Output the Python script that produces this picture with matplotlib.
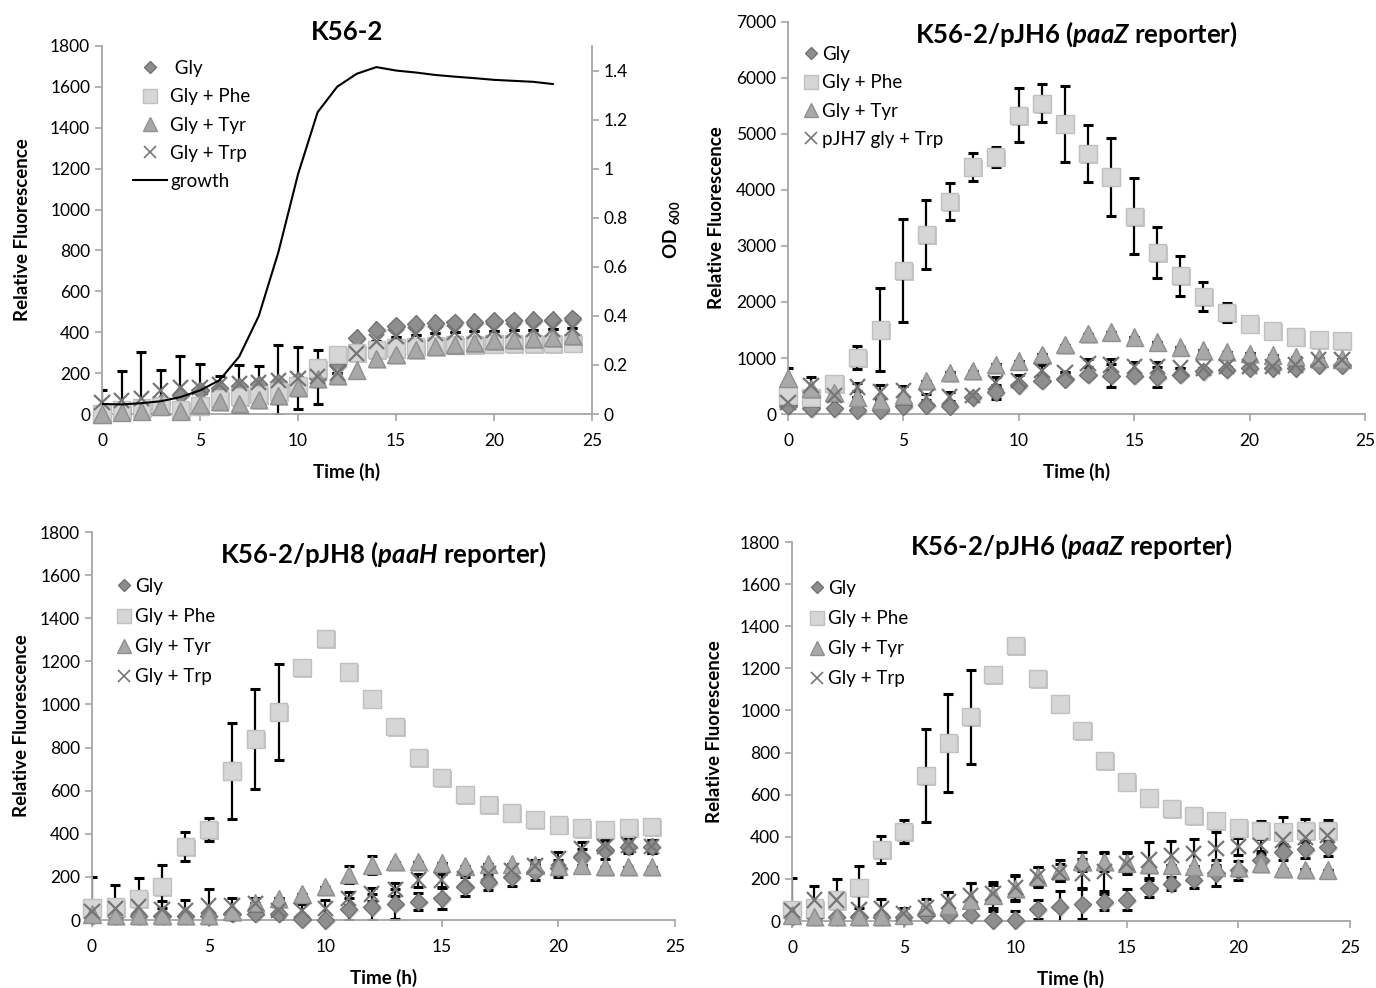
import numpy as np
import matplotlib
matplotlib.use("Agg")
import matplotlib.pyplot as plt
import matplotlib.patheffects as pe
from matplotlib.lines import Line2D

plt.rcParams['font.family'] = ['Lato', 'DejaVu Sans']
plt.rcParams['mathtext.fontset'] = 'custom'
plt.rcParams['mathtext.rm'] = 'Lato'
plt.rcParams['mathtext.it'] = 'Lato:italic'
plt.rcParams['mathtext.bf'] = 'Lato:bold'
plt.rcParams['mathtext.bfit'] = 'Lato:bold:italic'

# ---------------- data ----------------
hours = list(range(25))
growth_hours = list(range(24))

# Panel A: K56-2
gly_a = [0, 25, 35, 55, 95, 115, 125, 135, 145, 155, 165, 175, 240, 372, 413, 430, 440, 445, 448, 450, 455, 458, 460, 462, 468]
phe_a = [0, 20, 30, 40, 20, 40, 75, 85, 95, 110, 140, 225, 290, 300, 315, 322, 330, 335, 338, 340, 342, 344, 345, 346, 348]
tyr_a = [0, 10, 15, 40, 15, 45, 60, 50, 70, 90, 130, 175, 190, 215, 270, 290, 315, 330, 340, 350, 358, 365, 370, 375, 385]
trp_a = [55, 65, 75, 115, 130, 130, 145, 148, 155, 165, 175, 182, 200, 297, 355, 378, 388, 395, 400, 405, 408, 410, 413, 416, 420]
trp_a_err = [61, 145, 227, 100, 156, 113, 42, 92, 81, 171, 151, 132, 0, 0, 0, 0, 0, 0, 0, 0, 0, 0, 0, 0, 0]
growth_a = [0.041, 0.039, 0.044, 0.052, 0.069, 0.096, 0.138, 0.234, 0.40, 0.66, 0.977, 1.23,
            1.334, 1.387, 1.414, 1.40, 1.392, 1.382, 1.375, 1.369, 1.362, 1.358, 1.354, 1.345]

# Panel B: K56-2/pJH6 (paaZ reporter), top
gly_b = [150, 100, 100, 70, 70, 140, 158, 140, 300, 392, 509, 596, 626, 702, 684, 684, 661, 702, 760, 789, 819, 819, 819, 877, 877]
gly_b_err = [0, 0, 0, 0, 0, 0, 0, 0, 60, 130, 0, 0, 0, 0, 200, 0, 180, 0, 0, 0, 0, 0, 0, 0, 0]
phe_b = [333, 300, 550, 1006, 1503, 2559, 3206, 3794, 4412, 4588, 5335, 5547, 5176, 4647, 4235, 3529, 2882, 2470, 2100, 1813, 1608, 1480, 1374, 1327, 1316]
phe_b_err = [0, 0, 0, 200, 740, 925, 620, 330, 250, 180, 480, 340, 680, 510, 700, 680, 450, 360, 260, 170, 0, 0, 0, 0, 0]
tyr_b = [643, 450, 380, 304, 250, 333, 596, 743, 772, 889, 947, 1064, 1240, 1433, 1462, 1374, 1287, 1199, 1140, 1111, 1082, 1053, 1023, 1000, 980]
tyr_b_err = [170, 0, 0, 0, 0, 0, 0, 0, 0, 0, 0, 0, 0, 0, 0, 0, 0, 0, 0, 0, 0, 0, 0, 0, 0]
trp_b = [200, 509, 333, 480, 392, 421, 304, 304, 333, 567, 596, 772, 743, 906, 877, 848, 848, 819, 819, 848, 848, 848, 877, 965, 965]
trp_b_err = [0, 146, 0, 70, 130, 80, 60, 80, 0, 90, 100, 100, 0, 70, 100, 80, 80, 0, 0, 0, 0, 0, 0, 0, 0]

# Panel C: K56-2/pJH8 (paaH reporter)
gly_c = [20, 20, 20, 20, 20, 20, 30, 30, 30, 5, 0, 50, 60, 75, 85, 100, 155, 175, 200, 225, 240, 290, 325, 340, 340]
gly_c_err = [0, 0, 0, 0, 0, 0, 0, 0, 0, 0, 0, 50, 60, 70, 40, 50, 45, 35, 40, 40, 40, 40, 40, 30, 30]
phe_c = [56, 61, 99, 155, 340, 420, 691, 840, 965, 1170, 1307, 1150, 1026, 897, 755, 661, 582, 537, 497, 467, 441, 426, 421, 430, 433]
phe_c_err = [0, 0, 98, 100, 66, 55, 222, 232, 224, 0, 0, 0, 0, 0, 0, 0, 0, 0, 0, 0, 0, 0, 0, 0, 0]
tyr_c = [28, 20, 20, 20, 20, 20, 40, 80, 100, 120, 155, 210, 255, 270, 270, 265, 250, 260, 260, 255, 250, 255, 247, 247, 247]
tyr_c_err = [0, 0, 0, 0, 0, 0, 0, 0, 0, 0, 0, 40, 40, 0, 0, 0, 0, 0, 0, 0, 0, 0, 0, 0, 0]
trp_c = [40, 55, 60, 50, 45, 65, 65, 75, 45, 45, 55, 100, 120, 140, 185, 185, 190, 215, 230, 250, 285, 330, 340, 348, 340]
trp_c_err = [160, 107, 60, 40, 50, 80, 35, 25, 40, 30, 40, 30, 30, 30, 30, 30, 30, 30, 30, 30, 30, 30, 30, 30, 30]

# Panel D: K56-2/pJH6 (paaZ reporter), bottom
gly_d = [20, 20, 20, 20, 20, 20, 30, 30, 30, 5, 5, 55, 68, 80, 90, 100, 155, 178, 196, 228, 240, 288, 328, 340, 350]
gly_d_err = [0, 0, 0, 0, 0, 0, 0, 0, 0, 44, 44, 45, 76, 70, 40, 50, 40, 30, 40, 60, 45, 45, 40, 40, 40]
phe_d = [56, 61, 99, 160, 340, 425, 692, 845, 970, 1172, 1308, 1152, 1030, 905, 762, 660, 585, 535, 500, 477, 442, 431, 423, 431, 431]
phe_d_err = [0, 0, 0, 100, 66, 55, 222, 232, 224, 0, 0, 0, 0, 0, 0, 0, 0, 0, 0, 0, 30, 42, 70, 55, 50]
tyr_d = [28, 20, 20, 20, 20, 28, 68, 76, 100, 123, 155, 210, 240, 283, 283, 276, 268, 266, 262, 256, 254, 272, 248, 246, 242]
tyr_d_err = [0, 0, 0, 0, 0, 0, 0, 60, 80, 60, 60, 45, 50, 45, 45, 50, 0, 0, 0, 0, 0, 0, 0, 0, 0]
trp_d = [50, 100, 100, 55, 60, 35, 65, 92, 120, 130, 160, 210, 230, 226, 234, 274, 290, 310, 320, 345, 355, 360, 385, 395, 405]
trp_d_err = [155, 66, 100, 100, 44, 25, 40, 47, 59, 40, 58, 48, 40, 70, 90, 50, 87, 70, 70, 80, 40, 40, 40, 40, 40]

labels_std = ['Gly', 'Gly + Phe', 'Gly + Tyr', 'Gly + Trp']
labels_b = ['Gly', 'Gly + Phe', 'Gly + Tyr', 'pJH7 gly + Trp']
labels_a = [' Gly', 'Gly + Phe', 'Gly + Tyr', 'Gly + Trp']

# ---------------- styles ----------------
shadow = [pe.SimplePatchShadow(offset=(1.2, -1.2), shadow_rgbFace='#000000', alpha=0.22), pe.Normal()]
STY = {
    'gly': dict(marker='D', ms=8.8, mfc='#8e8e8e', mec='#727272', mew=1.0),
    'phe': dict(marker='s', ms=12.5, mfc='#d6d6d6', mec='#c0c0c0', mew=1.0),
    'tyr': dict(marker='^', ms=12.5, mfc='#a8a8a8', mec='#909090', mew=1.0),
    'trp': dict(marker='x', ms=11, mfc='none', mec='#757575', mew=1.6),
}
AXCOL = '#a6a6a6'
TICK_FS = 12.5
LAB_FS = 13.5
TITLE_FS = 18.5
LEG_FS = 13.5

fig = plt.figure(figsize=(13.76, 9.88), dpi=100)

def fx(px):
    return px / 1376.0

def fy(py):
    return 1 - py / 988.0

def make_axes(x0, x25, ytop, y0):
    return fig.add_axes([fx(x0), fy(y0), fx(x25 - x0), (y0 - ytop) / 988.0])

def style_axes(ax, ymax, ystep, ylabpad=12):
    ax.set_xlim(0, 25)
    ax.set_ylim(0, ymax)
    ax.set_xticks(range(0, 26, 5))
    ax.set_yticks(np.arange(0, ymax + 1, ystep))
    for s in ['top', 'right']:
        ax.spines[s].set_visible(False)
    for s in ['left', 'bottom']:
        ax.spines[s].set_color(AXCOL)
        ax.spines[s].set_linewidth(1.3)
    ax.tick_params(axis='both', colors=AXCOL, length=5, width=1.2, labelsize=TICK_FS,
                   labelcolor='black', direction='out')
    ax.tick_params(axis='x', pad=9)
    ax.set_xlabel('Time (h)', fontsize=LAB_FS, fontweight='bold', labelpad=10)
    ax.set_ylabel('Relative Fluorescence', fontsize=LAB_FS, fontweight='bold', labelpad=ylabpad)

def draw_series(ax, values, key, err=None):
    if err is not None:
        ax.errorbar(hours, values, yerr=err, fmt='none', ecolor='black', elinewidth=1.6,
                    capsize=3.5, capthick=2.2, zorder=2)
    ln, = ax.plot(hours, values, linestyle='none', clip_on=False, zorder=3, **STY[key])
    ln.set_path_effects(shadow)
    return ln

def legend_handles(labels):
    hs = []
    for key, lab in zip(['gly', 'phe', 'tyr', 'trp'], labels):
        st = dict(STY[key])
        st['ms'] = st['ms'] * 0.75
        if key == 'trp':
            st['mew'] = 1.2
        hs.append(Line2D([], [], linestyle='none', label=lab, **st))
    return hs

# ---------- Panel A ----------
axA = make_axes(102, 592, 46, 414)
style_axes(axA, 1800, 200, ylabpad=14)
draw_series(axA, gly_a, 'gly')
draw_series(axA, phe_a, 'phe')
draw_series(axA, tyr_a, 'tyr')
draw_series(axA, trp_a, 'trp', trp_a_err)
axA.set_title('K56-2', fontsize=TITLE_FS, fontweight='bold', pad=4)
axR = axA.twinx()
axR.set_ylim(0, 1.5)
axR.set_yticks([0, 0.2, 0.4, 0.6, 0.8, 1.0, 1.2, 1.4])
axR.set_yticklabels(['0', '0.2', '0.4', '0.6', '0.8', '1', '1.2', '1.4'])
for s in ['top', 'left', 'bottom']:
    axR.spines[s].set_visible(False)
axR.spines['right'].set_color(AXCOL)
axR.spines['right'].set_linewidth(1.3)
axR.tick_params(axis='y', colors=AXCOL, length=5, width=1.2, labelsize=TICK_FS, labelcolor='black')
axR.plot(growth_hours, growth_a, color='black', lw=1.5, label='growth')
axR.set_ylabel(r'OD $_{\mathbf{600}}$', fontsize=LAB_FS, fontweight='bold', labelpad=24)
hA = legend_handles(labels_a) + [Line2D([], [], color='black', lw=1.5, label='growth')]
axR.legend(handles=hA, loc='upper left', bbox_to_anchor=(fx(133), fy(60)),
           bbox_transform=fig.transFigure, frameon=False, fontsize=LEG_FS,
           handlelength=1.8, handletextpad=0.2, labelspacing=0.6, borderpad=0, borderaxespad=0)

# ---------- Panel B ----------
axB = make_axes(788, 1365, 22, 414)
style_axes(axB, 7000, 1000, ylabpad=8)
draw_series(axB, gly_b, 'gly', gly_b_err)
draw_series(axB, phe_b, 'phe', phe_b_err)
draw_series(axB, tyr_b, 'tyr', tyr_b_err)
draw_series(axB, trp_b, 'trp', trp_b_err)
axB.set_title(r'K56-2/pJH6 ($\mathbfit{paaZ}$ reporter)', fontsize=TITLE_FS, fontweight='bold', y=0.925)
axB.legend(handles=legend_handles(labels_b), loc='upper left', bbox_to_anchor=(fx(804), fy(46)),
           bbox_transform=fig.transFigure, frameon=False, fontsize=LEG_FS,
           handlelength=0.7, handletextpad=0.25, labelspacing=0.6, borderpad=0, borderaxespad=0)

# ---------- Panel C ----------
axC = make_axes(92, 675, 532, 920)
style_axes(axC, 1800, 200, ylabpad=7)
draw_series(axC, gly_c, 'gly', gly_c_err)
draw_series(axC, phe_c, 'phe', phe_c_err)
draw_series(axC, tyr_c, 'tyr', tyr_c_err)
draw_series(axC, trp_c, 'trp', trp_c_err)
axC.set_title(r'K56-2/pJH8 ($\mathbfit{paaH}$ reporter)', fontsize=TITLE_FS, fontweight='bold', y=0.9)
axC.legend(handles=legend_handles(labels_std), loc='upper left', bbox_to_anchor=(fx(117), fy(578)),
           bbox_transform=fig.transFigure, frameon=False, fontsize=LEG_FS,
           handlelength=0.7, handletextpad=0.25, labelspacing=0.7, borderpad=0, borderaxespad=0)

# ---------- Panel D ----------
axD = make_axes(792, 1350, 542, 921)
style_axes(axD, 1800, 200, ylabpad=12)
draw_series(axD, gly_d, 'gly', gly_d_err)
draw_series(axD, phe_d, 'phe', phe_d_err)
draw_series(axD, tyr_d, 'tyr', tyr_d_err)
draw_series(axD, trp_d, 'trp', trp_d_err)
axD.set_title(r'K56-2/pJH6 ($\mathbfit{paaZ}$ reporter)', fontsize=TITLE_FS, fontweight='bold', y=0.945)
axD.legend(handles=legend_handles(labels_std), loc='upper left', bbox_to_anchor=(fx(810), fy(580)),
           bbox_transform=fig.transFigure, frameon=False, fontsize=LEG_FS,
           handlelength=0.7, handletextpad=0.25, labelspacing=0.7, borderpad=0, borderaxespad=0)

fig.savefig('out.png', dpi=100)
